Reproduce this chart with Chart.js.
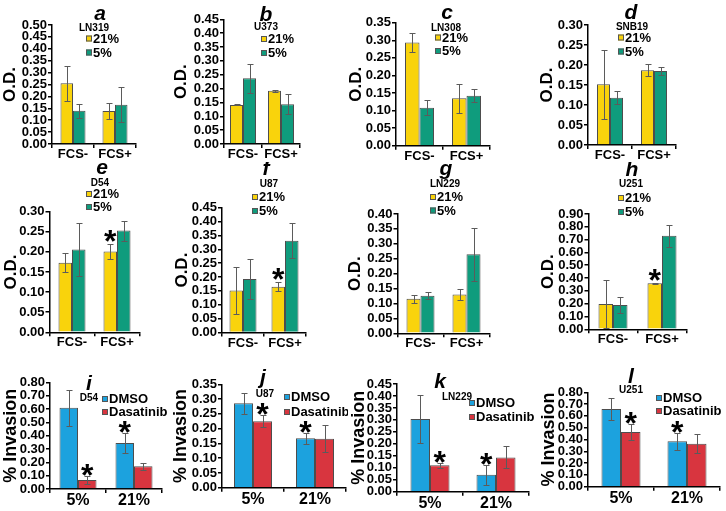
<!DOCTYPE html>
<html>
<head>
<meta charset="utf-8">
<script src="https://cdn.jsdelivr.net/npm/chart.js@4.4.1/dist/chart.umd.min.js"></script>
<style>
    html, body { margin: 0; padding: 0; background: #fff; }
    #lienzo { position: relative; width: 726px; height: 511px; overflow: hidden; background: #fff; }
    #lienzo canvas { position: absolute; }
</style>
</head>
<body>
<div id="lienzo"></div>
<script>
// --- CATEGORÍAS Y SERIES ---
const catsFCS = ['FCS-', 'FCS+'];
const catsO2 = ['5%', '21%'];
const seriesO2 = ['21%', '5%'];
const seriesDroga = ['DMSO', 'Dasatinib'];

// --- VALORES (media y error) POR PANEL ---
const a21 = [0.255, 0.139], a21Err = [0.074, 0.033];
const a5 = [0.140, 0.165], a5Err = [0.029, 0.073];
const b21 = [0.141, 0.192], b21Err = [0.002, 0.003];
const b5 = [0.237, 0.143], b5Err = [0.052, 0.036];
const c21 = [0.294, 0.135], c21Err = [0.028, 0.041];
const c5 = [0.108, 0.142], c5Err = [0.022, 0.018];
const d21 = [0.152, 0.187], d21Err = [0.086, 0.015];
const d5 = [0.118, 0.185], d5Err = [0.016, 0.010];
const e21 = [0.173, 0.201], e21Err = [0.024, 0.018];
const e5 = [0.206, 0.253], e5Err = [0.065, 0.025];
const f21 = [0.151, 0.165], f21Err = [0.085, 0.016];
const f5 = [0.193, 0.331], f5Err = [0.072, 0.063];
const g21 = [0.116, 0.130], g21Err = [0.013, 0.019];
const g5 = [0.126, 0.265], g5Err = [0.011, 0.089];
const h21 = [0.198, 0.360], h21Err = [0.190, 0.005];
const h5 = [0.190, 0.730], h5Err = [0.060, 0.088];
const iDMSO = [0.610, 0.345], iDMSOErr = [0.135, 0.078];
const iDas = [0.068, 0.170], iDasErr = [0.030, 0.026];
const jDMSO = [0.286, 0.167], jDMSOErr = [0.036, 0.018];
const jDas = [0.225, 0.166], jDasErr = [0.021, 0.045];
const kDMSO = [0.304, 0.071], kDMSOErr = [0.102, 0.041];
const kDas = [0.110, 0.143], kDasErr = [0.012, 0.046];
const lDMSO = [0.659, 0.385], lDMSOErr = [0.090, 0.070];
const lDas = [0.463, 0.365], lDasErr = [0.068, 0.083];

// --- EJES Y (máximo y paso de las marcas) ---
const yMax = [0.50, 0.45, 0.35, 0.30, 0.30, 0.45, 0.40, 0.90, 0.80, 0.35, 0.45, 0.80];
const yPaso = [0.05, 0.05, 0.05, 0.05, 0.05, 0.05, 0.05, 0.10, 0.10, 0.05, 0.05, 0.10];

// --- COLORES ---
const amarillo = '#F9D30C', verde = '#0F9C7D', azul = '#1CA2DE', rojo = '#D8353F';
const fuente = '"Liberation Sans", Arial, sans-serif';

// --- CONFIGURACIÓN DE CADA PANEL (posiciones en la página) ---
const paneles = [
    { letra: 'a', nombre: 'LN319', cats: catsFCS, series: seriesO2, v: [a21, a5], e: [a21Err, a5Err], col: [amarillo, verde], estrellas: [],
      caja: [0, 0, 171, 162], eje: 52, arriba: 25, abajo: 144, catW: 42, barW: 12.5, pL: [100, 20], pN: [94, 31], ley: [86, 38.5, 52.5] },
    { letra: 'b', nombre: 'U373', cats: catsFCS, series: seriesO2, v: [b21, b5], e: [b21Err, b5Err], col: [amarillo, verde], estrellas: [],
      caja: [171, 0, 175, 162], eje: 224, arriba: 19.3, abajo: 144, catW: 38, barW: 13, pL: [266, 21], pN: [266, 30], ley: [261, 39, 53] },
    { letra: 'c', nombre: 'LN308', cats: catsFCS, series: seriesO2, v: [c21, c5], e: [c21Err, c5Err], col: [amarillo, verde], estrellas: [],
      caja: [346, 0, 191, 162], eje: 396, arriba: 22.7, abajo: 145.7, catW: 47, barW: 14.5, pL: [447, 19], pN: [446, 31], ley: [435, 37.5, 51] },
    { letra: 'd', nombre: 'SNB19', cats: catsFCS, series: seriesO2, v: [d21, d5], e: [d21Err, d5Err], col: [amarillo, verde], estrellas: [],
      caja: [537, 0, 189, 162], eje: 588, arriba: 25, abajo: 145, catW: 44, barW: 13, pL: [631, 19], pN: [632, 30], ley: [618, 37.5, 51.5] },
    { letra: 'e', nombre: 'D54', cats: catsFCS, series: seriesO2, v: [e21, e5], e: [e21Err, e5Err], col: [amarillo, verde], estrellas: [[0, 1]],
      caja: [1, 162, 171, 190], eje: 49.5, arriba: 211.7, abajo: 332.3, catW: 45, barW: 13.5, pL: [102, 174], pN: [100, 186], ley: [86, 194, 207] },
    { letra: 'f', nombre: 'U87', cats: catsFCS, series: seriesO2, v: [f21, f5], e: [f21Err, f5Err], col: [amarillo, verde], estrellas: [[0, 1]],
      caja: [172, 162, 173, 190], eje: 222, arriba: 207.7, abajo: 332.5, catW: 42, barW: 13.5, pL: [266, 175], pN: [269, 187], ley: [252, 197, 211] },
    { letra: 'g', nombre: 'LN229', cats: catsFCS, series: seriesO2, v: [g21, g5], e: [g21Err, g5Err], col: [amarillo, verde], estrellas: [],
      caja: [345, 162, 193, 190], eje: 397.5, arriba: 214, abajo: 333.3, catW: 46, barW: 14, pL: [446, 175], pN: [445, 187], ley: [430, 197, 210.5] },
    { letra: 'h', nombre: 'U251', cats: catsFCS, series: seriesO2, v: [h21, h5], e: [h21Err, h5Err], col: [amarillo, verde], estrellas: [[0, 1]],
      caja: [538, 162, 188, 190], eje: 588.5, arriba: 214, abajo: 329.3, catW: 49, barW: 14.5, pL: [632, 176], pN: [631, 187], ley: [618, 198, 212] },
    { letra: 'i', nombre: 'D54', cats: catsO2, series: seriesDroga, v: [iDMSO, iDas], e: [iDMSOErr, iDasErr], col: [azul, rojo], estrellas: [[1, 0], [0, 1]],
      caja: [0, 352, 170, 159], eje: 50, arriba: 382.3, abajo: 489, catW: 56, barW: 18.5, pL: [89, 390], pN: [89, 401], ley: [102, 399, 412] },
    { letra: 'j', nombre: 'U87', cats: catsO2, series: seriesDroga, v: [jDMSO, jDas], e: [jDMSOErr, jDasErr], col: [azul, rojo], estrellas: [[1, 0], [0, 1]],
      caja: [170, 352, 178, 159], eje: 222, arriba: 384.3, abajo: 487.7, catW: 62, barW: 19, pL: [263, 384], pN: [265, 397], ley: [284, 397, 412] },
    { letra: 'k', nombre: 'LN229', cats: catsO2, series: seriesDroga, v: [kDMSO, kDas], e: [kDMSOErr, kDasErr], col: [azul, rojo], estrellas: [[1, 0], [0, 1]],
      caja: [348, 352, 190, 159], eje: 397, arriba: 384, abajo: 491.7, catW: 66, barW: 19.5, pL: [440, 388], pN: [457, 400], ley: [469, 403, 417] },
    { letra: 'l', nombre: 'U251', cats: catsO2, series: seriesDroga, v: [lDMSO, lDas], e: [lDMSOErr, lDasErr], col: [azul, rojo], estrellas: [[1, 0], [0, 1]],
      caja: [538, 352, 188, 159], eje: 588, arriba: 392.3, abajo: 486.7, catW: 66, barW: 19.5, pL: [631, 383], pN: [631, 393], ley: [656, 398, 411] }
];

// --- PLUGIN: barras de error, asteriscos, letra, nombre y leyenda ---
const extrasPanel = {
    id: 'extrasPanel',
    afterDatasetsDraw(chart, args, opts) {
        const p = opts.panel;
        const ctx = chart.ctx;
        const ys = chart.scales.y;
        ctx.save();
        ctx.strokeStyle = '#5b5b5b';
        ctx.lineWidth = 1;
        chart.data.datasets.forEach((ds, di) => {
            chart.getDatasetMeta(di).data.forEach((barra, i) => {
                const v = ds.data[i], err = p.e[di][i];
                const yTop = Math.round(ys.getPixelForValue(v + err)) + 0.5;
                const yBot = Math.round(ys.getPixelForValue(Math.max(0, v - err))) + 0.5;
                const x = Math.round(barra.x) + 0.5;
                ctx.beginPath();
                ctx.moveTo(x, yTop); ctx.lineTo(x, yBot);
                ctx.moveTo(x - 3, yTop); ctx.lineTo(x + 3, yTop);
                ctx.moveTo(x - 3, yBot); ctx.lineTo(x + 3, yBot);
                ctx.stroke();
            });
        });
        // asteriscos de significancia
        ctx.fillStyle = '#000';
        ctx.font = 'bold 32px ' + fuente;
        ctx.textAlign = 'center';
        ctx.textBaseline = 'alphabetic';
        const m = ctx.measureText('*');
        const sep = p.cats === catsO2 ? 6 : 8;
        p.estrellas.forEach(([di, i]) => {
            const barra = chart.getDatasetMeta(di).data[i];
            const yTop = ys.getPixelForValue(p.v[di][i] + p.e[di][i]);
            const centro = yTop - sep;
            const base = centro + (m.actualBoundingBoxAscent - m.actualBoundingBoxDescent) / 2;
            ctx.fillText('*', barra.x, base);
        });
        ctx.restore();
    },
    afterDraw(chart, args, opts) {
        const p = opts.panel;
        const ctx = chart.ctx;
        const ox = p.caja[0], oy = p.caja[1];
        ctx.save();
        ctx.fillStyle = '#000';
        ctx.textAlign = 'center';
        ctx.textBaseline = 'alphabetic';
        ctx.font = 'italic bold 21px ' + fuente;
        ctx.fillText(p.letra, p.pL[0] - ox, p.pL[1] - oy);
        ctx.font = 'bold 10px ' + fuente;
        ctx.fillText(p.nombre, p.pN[0] - ox, p.pN[1] - oy);
        // leyenda
        ctx.textAlign = 'left';
        ctx.textBaseline = 'middle';
        ctx.font = 'bold 13px ' + fuente;
        p.series.forEach((s, k) => {
            const cy = p.ley[1 + k] - oy;
            const sx = p.ley[0] - ox;
            ctx.fillStyle = p.col[k];
            ctx.fillRect(sx, cy - 3, 6, 6);
            ctx.strokeStyle = '#555';
            ctx.lineWidth = 1;
            ctx.strokeRect(sx + 0.5, cy - 2.5, 5, 5);
            ctx.fillStyle = '#000';
            ctx.fillText(s, sx + 7, cy + 0.5);
        });
        ctx.restore();
    }
};

// --- CONSTRUCCIÓN DE LOS 12 GRÁFICOS ---
const contenedor = document.getElementById('lienzo');
paneles.forEach((p, n) => {
    const [bx, by, bw, bh] = p.caja;
    const canvas = document.createElement('canvas');
    canvas.width = bw;
    canvas.height = bh;
    canvas.style.left = bx + 'px';
    canvas.style.top = by + 'px';
    canvas.style.width = bw + 'px';
    canvas.style.height = bh + 'px';
    contenedor.appendChild(canvas);

    const esInvasion = p.cats === catsO2;
    const derecha = p.eje + 2 * p.catW;

    new Chart(canvas.getContext('2d'), {
        type: 'bar',
        data: {
            labels: p.cats,
            datasets: p.series.map((s, k) => ({
                label: s,
                data: p.v[k],
                backgroundColor: p.col[k],
                borderColor: '#4d4d4d',
                borderWidth: 1,
                categoryPercentage: 2 * p.barW / p.catW,
                barPercentage: 1
            }))
        },
        options: {
            responsive: false,
            animation: false,
            devicePixelRatio: 1,
            events: [],
            layout: { padding: { top: p.arriba - by, right: bx + bw - derecha, left: 0, bottom: 0 } },
            plugins: {
                legend: { display: false },
                tooltip: { enabled: false },
                extrasPanel: { panel: p }
            },
            scales: {
                x: {
                    offset: true,
                    grid: { drawOnChartArea: false, drawTicks: true, tickLength: 4, color: '#000', lineWidth: 1.5, offset: true },
                    border: { color: '#000', width: 1.5 },
                    ticks: {
                        color: '#000', padding: 0, maxRotation: 0, autoSkip: false,
                        font: { family: fuente, weight: 'bold', size: esInvasion ? 16 : 13, lineHeight: 1 }
                    },
                    afterFit: (s) => { s.height = by + bh - p.abajo; }
                },
                y: {
                    min: 0,
                    max: yMax[n],
                    grid: { drawOnChartArea: false, drawTicks: true, tickLength: 4, color: '#000', lineWidth: 1.5 },
                    border: { color: '#000', width: 1.5 },
                    ticks: {
                        stepSize: yPaso[n], autoSkip: false, color: '#000', padding: 1,
                        font: { family: fuente, weight: 'bold', size: 13, lineHeight: 1 },
                        callback: (v) => Number(v).toFixed(2)
                    },
                    title: {
                        display: true,
                        text: esInvasion ? '% Invasion' : 'O.D.',
                        color: '#000',
                        padding: 0,
                        font: { family: fuente, weight: 'bold', size: esInvasion ? 18 : 17 }
                    },
                    afterFit: (s) => { s.width = p.eje - bx; }
                }
            }
        },
        plugins: [extrasPanel]
    });
});
</script>
</body>
</html>
